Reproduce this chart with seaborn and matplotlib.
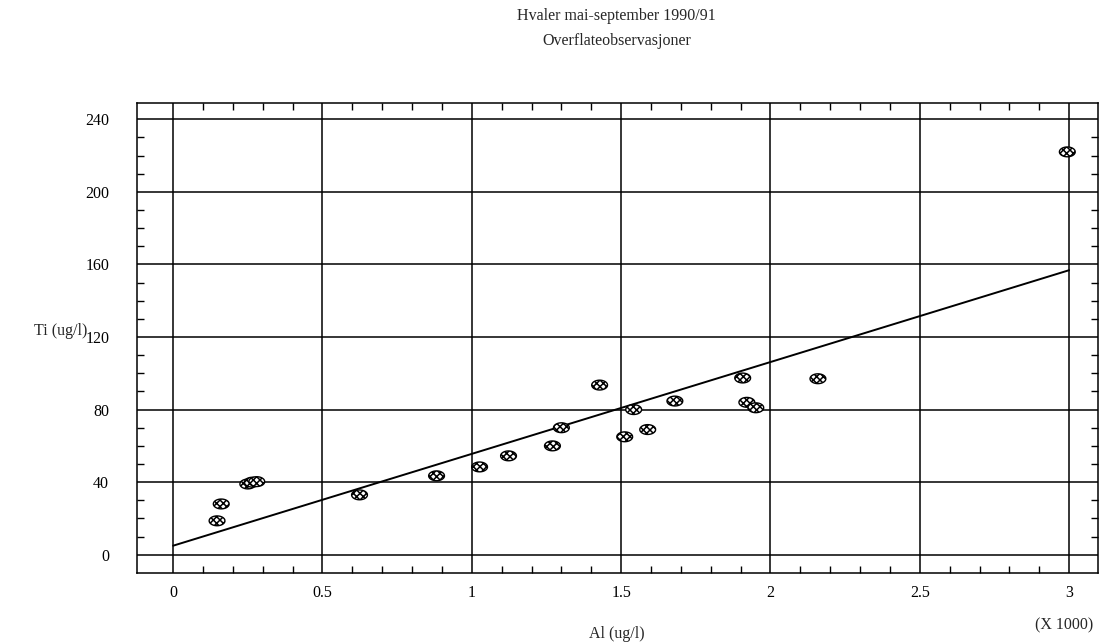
import numpy as np
import pandas as pd
import matplotlib
matplotlib.use("Agg")
import matplotlib.pyplot as plt
import seaborn as sns

# Data (Al in thousands of ug/l, Ti in ug/l)
al = [0.147, 0.161, 0.250, 0.265, 0.280, 0.624, 0.882, 1.026, 1.123, 1.270, 1.300,
      1.428, 1.512, 1.542, 1.589, 1.680, 1.907, 1.921, 1.951, 2.159, 2.994]
ti = [18.7, 28.0, 39.0, 40.0, 40.3, 33.0, 43.5, 48.4, 54.5, 60.0, 70.0,
      93.5, 65.0, 80.0, 69.0, 84.7, 97.4, 84.0, 81.0, 97.0, 222.0]

# regression line as drawn in the original
fit_intercept = 5.0
fit_slope = 50.6
fit_range = [0.0, 3.0]

x_ticks = [0, 0.5, 1, 1.5, 2, 2.5, 3]
x_ticklabels = ["0", "0.5", "1", "1.5", "2", "2.5", "3"]
y_ticks = [0, 40, 80, 120, 160, 200, 240]

df = pd.DataFrame({"al": al, "ti": ti})
fit_df = pd.DataFrame({"al": fit_range})
fit_df["ti"] = fit_intercept + fit_slope * fit_df["al"]

sns.set_theme(style="white")
plt.rcParams["font.family"] = ["Liberation Serif", "DejaVu Serif"]
plt.rcParams["hatch.linewidth"] = 1.1

fig = plt.figure(figsize=(11.05, 6.43), dpi=100)
ax = fig.add_axes([0.124, 0.109, 0.870, 0.731])

# crosshatched ellipse marker
t = np.linspace(0, 2 * np.pi, 40)
ellipse = np.column_stack([np.cos(t), 0.62 * np.sin(t)])

sns.lineplot(data=fit_df, x="al", y="ti", color="black", linewidth=1.4, ax=ax)
sns.scatterplot(data=df, x="al", y="ti", marker=ellipse, s=130, facecolor="white",
                edgecolor="black", linewidth=1.0, hatch="xxxxx", ax=ax, zorder=3)

ax.set_xlim(-0.121, 3.098)
ax.set_ylim(-10, 249)
ax.set_xticks(x_ticks)
ax.set_xticklabels(x_ticklabels)
ax.set_yticks(y_ticks)
ax.set_xticks(np.arange(0, 3.05, 0.1), minor=True)
ax.set_yticks(np.arange(0, 245, 10), minor=True)

ax.grid(True, which="major", color="black", linewidth=1.1)
ax.tick_params(which="major", length=0, labelsize=11.5, colors="black")
ax.tick_params(axis="y", which="major", pad=20)
ax.tick_params(axis="x", which="major", pad=9)
ax.tick_params(which="minor", direction="in", length=5, width=1, color="black",
               top=True, bottom=True, left=True, right=True)
for sp in ax.spines.values():
    sp.set_color("black")
    sp.set_linewidth(1.1)

ax.set_xlabel("")
ax.set_ylabel("")
fig.text(0.558, 0.002, "Al (ug/l)", ha="center", va="bottom", fontsize=11.5)
fig.text(0.963, 0.015, "(X 1000)", ha="center", va="bottom", fontsize=11.5)
fig.text(0.031, 0.486, "Ti (ug/l)", ha="left", va="center", fontsize=11.5)
fig.text(0.558, 0.988, "Hvaler mai-september 1990/91", ha="center", va="top", fontsize=11.5)
fig.text(0.558, 0.948, "Overflateobservasjoner", ha="center", va="top", fontsize=11.5)

plt.savefig("out.png", dpi=100)
